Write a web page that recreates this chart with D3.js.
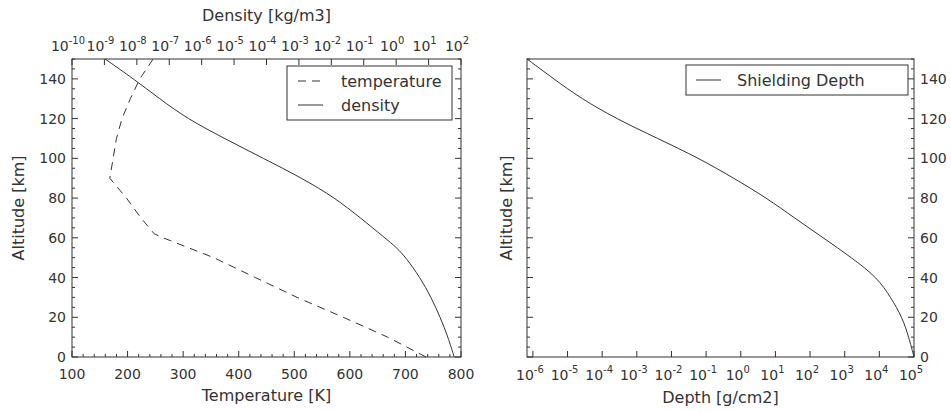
<!DOCTYPE html>
<html><head><meta charset="utf-8">
<script src="https://cdn.jsdelivr.net/npm/d3@7"></script>
<style>body{margin:0;background:#fff}text{font-family:"DejaVu Sans";fill:#333}</style>
</head><body>
<script>
var altitudes = [0, 10, 20, 30, 40, 50, 60, 62, 70, 80, 90, 100, 110, 120, 130, 140, 150];
var temperature = [737, 668, 588, 505, 430, 355, 264, 248, 224, 198, 168, 174, 180, 190, 205, 222, 246];
var densAlt = [0, 10, 20, 30, 40, 50, 55, 60, 70, 80, 90, 100, 110, 120, 130, 140, 150];
var logDensity = [1.79, 1.6, 1.36, 1.08, 0.74, 0.3, 0.02, -0.35, -1.1, -1.88, -2.9, -4.1, -5.3, -6.45, -7.3, -8.1, -8.98];
var depthAlt = [0, 10, 20, 30, 40, 50, 60, 70, 80, 90, 100, 110, 120, 130, 140, 150];
var logDepth = [5, 4.85, 4.66, 4.33, 3.94, 3.2, 2.38, 1.55, 0.75, -0.2, -1.2, -2.4, -3.6, -4.6, -5.4, -6.17];
var densityTicks = d3.range(-10, 3);
var depthTicks = d3.range(-6, 6);

var svg = d3.select('body').append('svg').attr('width', 951).attr('height', 411);
var c = '#333';

function sup(sel, e) {
  sel.text('10').append('tspan').attr('dy', -7).attr('font-size', 10).text(e);
}

function yAxis(x0, x1, y, labelSide) {
  d3.range(0, 151, 5).forEach(function (v) {
    var len = v % 20 === 0 ? 6 : 3;
    svg.append('line').attr('x1', x0).attr('x2', x0 + len).attr('y1', y(v)).attr('y2', y(v)).attr('stroke', c);
    svg.append('line').attr('x1', x1).attr('x2', x1 - len).attr('y1', y(v)).attr('y2', y(v)).attr('stroke', c);
    if (v % 20 === 0) {
      var t = svg.append('text').attr('y', y(v) + 5).attr('font-size', 14).text(v);
      if (labelSide === 'left') t.attr('x', x0 - 6).attr('text-anchor', 'end');
      else t.attr('x', x1 + 6).attr('text-anchor', 'start');
    }
  });
}

// ---- left panel
var L = {x0: 72, x1: 461, y0: 59, y1: 357};
var y = d3.scaleLinear().domain([0, 150]).range([L.y1, L.y0]);
var xT = d3.scaleLinear().domain([100, 800]).range([L.x0, L.x1]);
var xD = d3.scaleLinear().domain([-10, 2]).range([L.x0, L.x1]);

svg.append('rect').attr('x', L.x0).attr('y', L.y0).attr('width', L.x1 - L.x0).attr('height', L.y1 - L.y0)
  .attr('fill', 'none').attr('stroke', c);
yAxis(L.x0, L.x1, y, 'left');
d3.range(100, 801, 20).forEach(function (v) {
  var len = v % 100 === 0 ? 6 : 3;
  svg.append('line').attr('x1', xT(v)).attr('x2', xT(v)).attr('y1', L.y1).attr('y2', L.y1 - len).attr('stroke', c);
  if (v % 100 === 0) svg.append('text').attr('x', xT(v)).attr('y', L.y1 + 22).attr('text-anchor', 'middle').attr('font-size', 14).text(v);
});
densityTicks.forEach(function (e) {
  svg.append('line').attr('x1', xD(e)).attr('x2', xD(e)).attr('y1', L.y0).attr('y2', L.y0 + 6).attr('stroke', c);
  svg.append('text').attr('x', xD(e) - 4).attr('y', L.y0 - 8).attr('text-anchor', 'middle').attr('font-size', 14).call(sup, e);
});
svg.append('text').attr('x', (L.x0 + L.x1) / 2).attr('y', 401).attr('text-anchor', 'middle').attr('font-size', 16).text('Temperature [K]');
svg.append('text').attr('x', (L.x0 + L.x1) / 2).attr('y', 21).attr('text-anchor', 'middle').attr('font-size', 16).text('Density [kg/m3]');
svg.append('text').attr('transform', 'translate(24,' + (L.y0 + L.y1) / 2 + ') rotate(-90)').attr('text-anchor', 'middle').attr('font-size', 16).text('Altitude [km]');

var lineT = d3.line().x(function (d, i) { return xT(temperature[i]); }).y(function (d) { return y(d); });
var lineD = d3.line().x(function (d, i) { return xD(logDensity[i]); }).y(function (d) { return y(d); }).curve(d3.curveBasis);
svg.append('path').datum(altitudes).attr('d', lineT).attr('fill', 'none').attr('stroke', c).attr('stroke-dasharray', '8,6');
svg.append('path').datum(densAlt).attr('d', lineD).attr('fill', 'none').attr('stroke', c);

svg.append('rect').attr('x', 287).attr('y', 66).attr('width', 165).attr('height', 54).attr('fill', '#fff').attr('stroke', c);
svg.append('line').attr('x1', 298).attr('x2', 323).attr('y1', 81).attr('y2', 81).attr('stroke', c).attr('stroke-dasharray', '8,6');
svg.append('text').attr('x', 341).attr('y', 87).attr('font-size', 16).text('temperature');
svg.append('line').attr('x1', 298).attr('x2', 323).attr('y1', 105).attr('y2', 105).attr('stroke', c);
svg.append('text').attr('x', 341).attr('y', 111).attr('font-size', 16).text('density');

// ---- right panel
var R = {x0: 527, x1: 914, y0: 59, y1: 357};
var xP = d3.scaleLinear().domain([-6.17, 5]).range([R.x0, R.x1]);
svg.append('rect').attr('x', R.x0).attr('y', R.y0).attr('width', R.x1 - R.x0).attr('height', R.y1 - R.y0)
  .attr('fill', 'none').attr('stroke', c);
yAxis(R.x0, R.x1, y, 'right');
depthTicks.forEach(function (e) {
  svg.append('line').attr('x1', xP(e)).attr('x2', xP(e)).attr('y1', R.y1).attr('y2', R.y1 - 6).attr('stroke', c);
  svg.append('text').attr('x', xP(e) - 3).attr('y', R.y1 + 23).attr('text-anchor', 'middle').attr('font-size', 14).call(sup, e);
});
svg.append('text').attr('x', (R.x0 + R.x1) / 2).attr('y', 403).attr('text-anchor', 'middle').attr('font-size', 16).text('Depth [g/cm2]');
svg.append('text').attr('transform', 'translate(512,' + (R.y0 + R.y1) / 2 + ') rotate(-90)').attr('text-anchor', 'middle').attr('font-size', 16).text('Altitude [km]');
var lineP = d3.line().x(function (d, i) { return xP(logDepth[i]); }).y(function (d) { return y(d); }).curve(d3.curveBasis);
svg.append('path').datum(depthAlt).attr('d', lineP).attr('fill', 'none').attr('stroke', c);

svg.append('rect').attr('x', 686).attr('y', 65).attr('width', 222).attr('height', 30).attr('fill', '#fff').attr('stroke', c);
svg.append('line').attr('x1', 696).attr('x2', 721).attr('y1', 80).attr('y2', 80).attr('stroke', c);
svg.append('text').attr('x', 737).attr('y', 86).attr('font-size', 16).text('Shielding Depth');
</script>
</body></html>
